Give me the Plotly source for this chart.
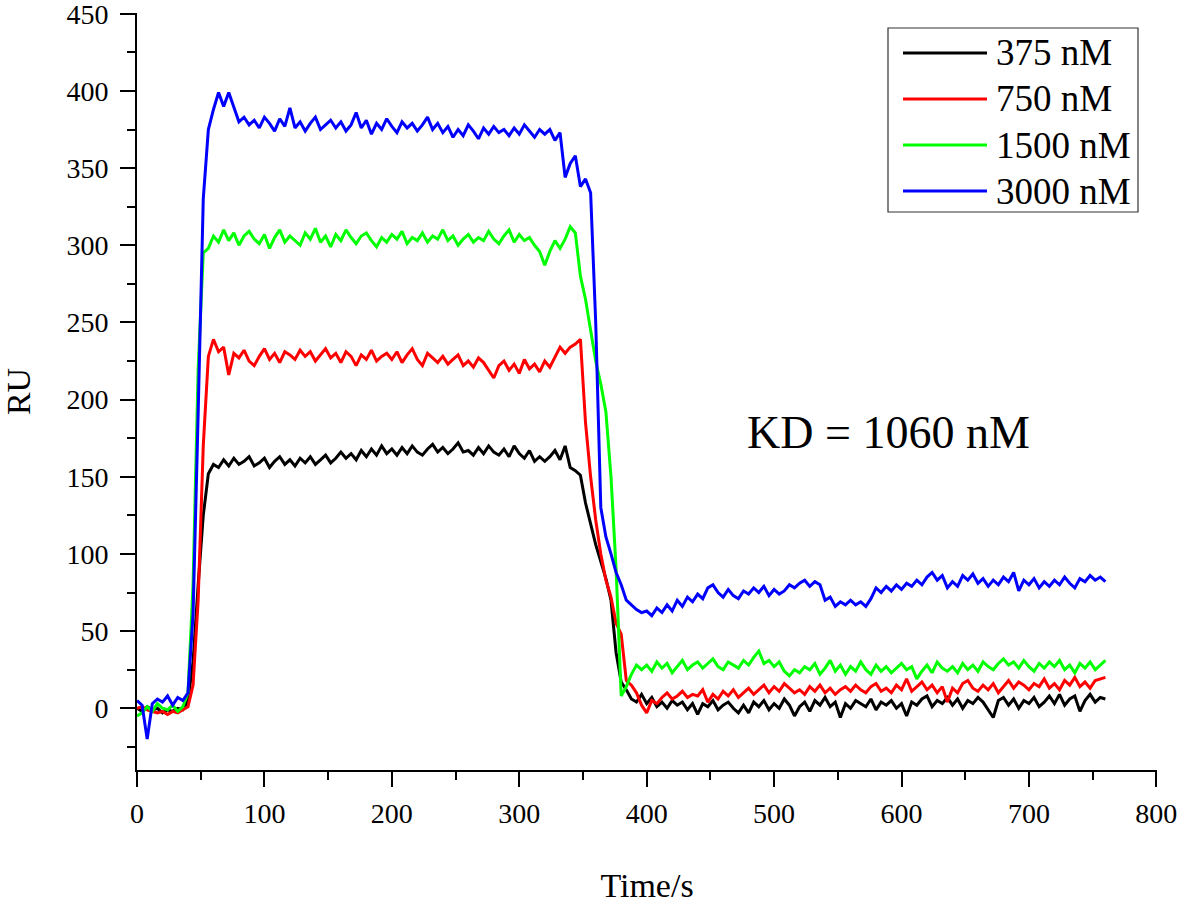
import plotly.graph_objects as go

# Time grid (s), one sample every 4 s
time_s = list(range(0, 761, 4))

series_names = ["375 nM", "750 nM", "1500 nM", "3000 nM"]
series_colors = ["#000000", "#FF0000", "#00FF00", "#0000FF"]

ru_375 = [
    0, -2, 1, -1, 0, -3, -1, -2, 0, -1,
    5, 30, 80, 125, 152, 158, 156, 161, 157, 162,
    158, 160, 163, 157, 159, 162, 156, 160, 163, 158,
    161, 157, 162, 159, 163, 158, 161, 164, 159, 162,
    166, 162, 165, 161, 167, 163, 168, 164, 170, 165,
    168, 164, 169, 165, 170, 166, 164, 168, 171, 166,
    169, 165, 168, 172, 166, 167, 164, 169, 165, 170,
    166, 164, 168, 163, 170, 165, 162, 167, 160, 163,
    160, 163, 167, 161, 170, 156, 154, 151, 133, 120,
    106, 95, 84, 70, 36, 17, 12, 6, 4, 9,
    3, 7, 1, 4, 0, 5, 2, 4, -1, 3,
    -4, 3, 1, 5, -1, 2, 4, 0, -3, 2,
    -3, 4, 1, 5, -1, 3, 0, 6, 2, -5,
    1, 4, -2, 5, 2, 7, 1, 4, -6, 3,
    0, 5, 3, 1, 6, -1, 4, 2, 5, 0,
    3, -5, 4, 2, 6, 8, 1, 5, 3, 7,
    2, 6, 0, 5, 3, 7, 4, -1, -6, 5,
    7, 2, 6, 0, 5, 3, 7, 1, 4, 8,
    3, 9, 2, 6, 8, -2, 5, 9, 4, 7,
    6,
]

ru_750 = [
    0, 1, -1, -2, -3, -2, -4, -2, -3, -1,
    1, 15, 70, 170, 228, 239, 231, 234, 216, 230,
    227, 232, 225, 222, 228, 233, 226, 230, 224, 231,
    229, 226, 232, 228, 231, 225, 229, 233, 227, 230,
    224, 231, 228, 222, 229, 226, 232, 225, 228, 230,
    226, 231, 224, 229, 233, 226, 222, 230, 227, 224,
    228, 223, 226, 229, 222, 225, 221, 227, 224, 219,
    214, 222, 225, 219, 223, 217, 226, 220, 223, 218,
    225, 221, 227, 234, 230, 234, 236, 239, 185, 150,
    122, 100, 83, 72, 55, 48, 18, 15, 10, 2,
    -3, 5, 3, 7, 10, 6, 8, 11, 7, 9,
    8, 12, 4, 9, 6, 11, 8, 12, 7, 10,
    13, 9, 12, 15, 10, 14, 11, 16, 13, 10,
    12, 9, 14, 11, 15, 10, 13, 9, 12, 14,
    11, 15, 12, 10, 14, 16, 11, 13, 10, 15,
    12, 19, 11, 14, 17, 12, 15, 10, 14, 4,
    13, 10, 16, 18, 13, 11, 15, 12, 16, 10,
    14, 18, 13, 17, 15, 12, 16, 14, 19, 13,
    16, 12, 18, 15, 20, 14, 17, 13, 18, 19,
    20,
]

ru_1500 = [
    -5, -3, 1, -2, 3, 0, -1, 2, -2, 1,
    10, 80, 220, 295, 298, 306, 302, 310, 303, 308,
    300, 306, 309, 304, 301, 307, 298, 305, 310, 302,
    306, 303, 300, 308, 304, 311, 302, 306, 299, 307,
    303, 310, 305, 301, 306, 308, 303, 299, 305, 302,
    307, 304, 309, 301, 305, 303, 308, 302, 306, 304,
    310, 303, 306, 300, 304, 307, 302, 305, 303, 309,
    304, 301, 306, 310, 302, 307, 303, 305, 300, 296,
    287, 296, 303, 298, 304, 312, 308, 280, 265, 245,
    225, 210, 192, 150, 90, 8, 14, 22, 28, 25,
    28, 24, 30, 26, 29, 23, 27, 31, 25, 28,
    30, 26, 29, 32, 27, 25, 30, 28, 26, 31,
    28, 33, 37, 29, 31, 27, 30, 24, 21, 25,
    23, 27, 25, 29, 22, 26, 31, 24, 28, 22,
    27, 24, 30, 25, 22, 28, 24, 27, 23, 26,
    29, 25, 27, 19, 24, 28, 23, 30, 26, 24,
    27, 23, 29, 25, 28, 24, 30, 27, 25, 29,
    32, 28, 30, 26, 31, 27, 24, 29, 26, 30,
    27, 31, 25, 28, 23, 29, 26, 30, 25, 28,
    31,
]

ru_3000 = [
    5, 2, -20, 3, 6, 4, 8, 2, 7, 5,
    10, 61, 191, 330, 375, 388, 399, 390, 399, 389,
    380, 383, 378, 381, 376, 383, 379, 374, 382, 377,
    389, 376, 380, 374, 379, 383, 375, 378, 381, 376,
    380, 374, 378, 386, 376, 381, 372, 379, 375, 382,
    377, 373, 380, 376, 379, 374, 378, 383, 375, 379,
    373, 377, 370, 375, 371, 378, 374, 369, 376, 372,
    377, 373, 375, 371, 376, 372, 378, 374, 370, 375,
    372, 375, 368, 373, 344, 353, 358, 338, 343, 334,
    250, 130, 111, 100, 88, 80, 70, 67, 64, 62,
    63, 60, 65, 62, 67, 63, 70, 66, 72, 69,
    74, 71, 78, 80, 75, 72, 77, 73, 71, 76,
    74, 78, 75, 79, 73, 77, 74, 76, 80, 78,
    81, 83, 79, 82, 80, 70, 72, 66, 69, 67,
    70, 67, 69, 66, 71, 78, 75, 79, 76, 80,
    77, 81, 79, 83, 80, 85, 88, 83, 86, 78,
    82, 79, 86, 83, 87, 81, 84, 79, 83, 80,
    85, 82, 88, 76, 83, 80, 84, 78, 82, 79,
    83, 80, 85, 81, 78, 84, 82, 86, 83, 85,
    82,
]

x_ticks = [0, 100, 200, 300, 400, 500, 600, 700, 800]
y_ticks = [0, 50, 100, 150, 200, 250, 300, 350, 400, 450]

annotation_text = "KD = 1060 nM"

FONT = "Liberation Serif, Times New Roman, serif"
W, H = 1181, 905
ML, MR, MT, MB = 137, 24, 13, 135
PW, PH = W - ML - MR, H - MT - MB

def px_x(p):
    return (p - ML) / PW

def px_y(p):
    return (H - MB - p) / PH

fig = go.Figure()
all_series = [ru_375, ru_750, ru_1500, ru_3000]
for name, color, vals in zip(series_names, series_colors, all_series):
    fig.add_trace(go.Scatter(
        x=time_s, y=vals, mode="lines", name=name,
        line=dict(color=color, width=3), showlegend=False,
    ))

# Custom legend box (line samples longer than Plotly's fixed sample)
shapes = [dict(type="rect", xref="paper", yref="paper",
               x0=px_x(888), x1=px_x(1138), y0=px_y(212), y1=px_y(28),
               line=dict(color="#333333", width=1.2), fillcolor="white", layer="above")]
annotations = []
row_y = [53, 99, 145, 191]
for name, color, ry in zip(series_names, series_colors, row_y):
    shapes.append(dict(type="line", xref="paper", yref="paper",
                       x0=px_x(903), x1=px_x(987), y0=px_y(ry), y1=px_y(ry),
                       line=dict(color=color, width=3), layer="above"))
    annotations.append(dict(xref="paper", yref="paper", x=px_x(994), y=px_y(ry),
                            text=name, showarrow=False, xanchor="left", yanchor="middle",
                            font=dict(family=FONT, size=37, color="black")))

annotations.append(dict(x=590, y=179, xref="x", yref="y", text=annotation_text,
                        showarrow=False, xanchor="center", yanchor="middle",
                        font=dict(family=FONT, size=46, color="black")))

axis_common = dict(
    showline=True, linecolor="black", linewidth=2, mirror=False,
    showgrid=False, zeroline=False, automargin=False,
    ticks="outside", ticklen=15, tickwidth=2, tickcolor="black",
    ticklabeloverflow="allow",
    tickfont=dict(family=FONT, size=28, color="black"),
)

fig.update_layout(
    width=W, height=H,
    margin=dict(l=ML, r=MR, t=MT, b=MB),
    paper_bgcolor="white", plot_bgcolor="white",
    shapes=shapes, annotations=annotations,
    xaxis=dict(range=[0, 800.5], tickvals=x_ticks, ticktext=[str(v) for v in x_ticks],
               minor=dict(dtick=50, ticklen=8, tickwidth=2, tickcolor="black", ticks="outside"),
               title=dict(text="Time/s", font=dict(family=FONT, size=34, color="black"), standoff=46),
               ticklabelstandoff=2,
               **axis_common),
    yaxis=dict(range=[-40, 450.5], tickvals=y_ticks, ticktext=[str(v) for v in y_ticks],
               minor=dict(dtick=25, ticklen=8, tickwidth=2, tickcolor="black", ticks="outside"),
               title=dict(text="RU", font=dict(family=FONT, size=34, color="black"), standoff=36),
               ticklabelstandoff=6,
               **axis_common),
)

fig.write_html("out.html", config={"displayModeBar": False})

# remove the default page margin so the figure sits at the window origin
with open("out.html", "r", encoding="utf-8") as f:
    html = f.read()
html = html.replace("<head>", "<head><style>html,body{margin:0;padding:0;overflow:hidden;}</style>", 1)
with open("out.html", "w", encoding="utf-8") as f:
    f.write(html)
